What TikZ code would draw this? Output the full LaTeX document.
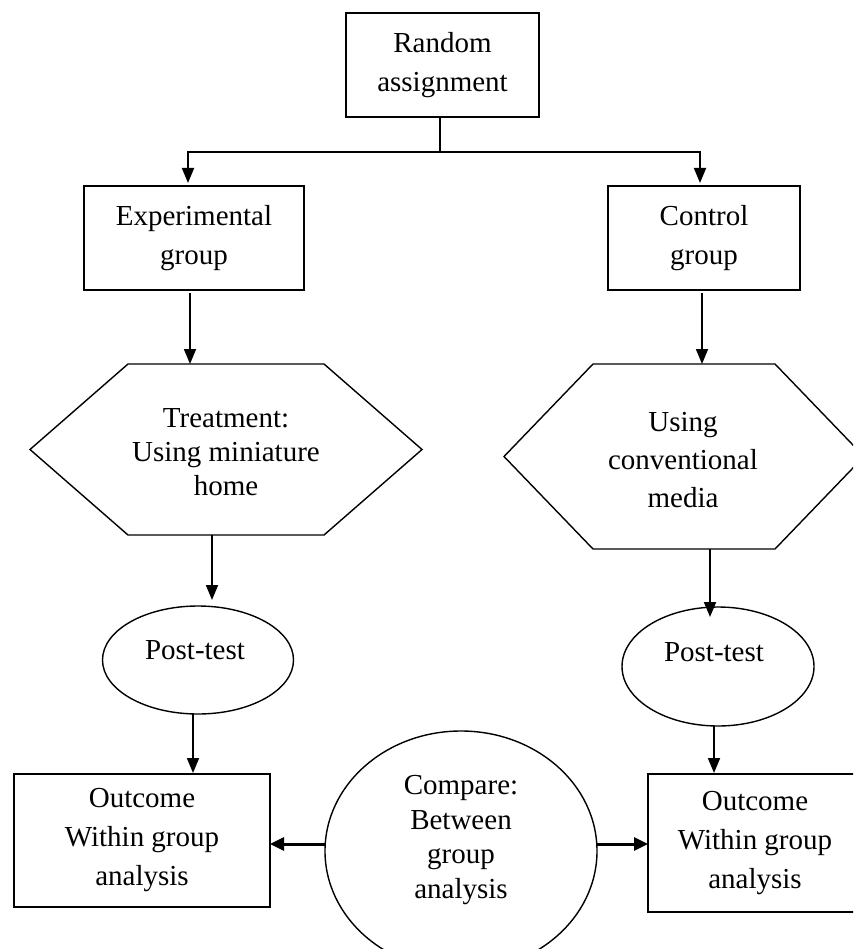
\documentclass[tikz,border=0pt]{standalone}
\usepackage{fontspec}
\setmainfont{Liberation Serif}
\usetikzlibrary{arrows.meta,shapes.geometric,calc}
\begin{document}
\begin{tikzpicture}[x=1pt,y=-1pt,
  every node/.style={font=\fontsize{29}{39}\selectfont, align=center, inner sep=0pt, outer sep=0pt},
  boxn/.style={draw, line width=1.4pt, rectangle},
  elln/.style={draw, line width=1.4pt, ellipse},
  hexn/.style={draw=none, rectangle},
  hexline/.style={line width=1.4pt, line join=miter},
  arr/.style={line width=1.8pt, -{Triangle[length=15pt,width=12pt]}},
  arrh/.style={line width=3pt, -{Triangle[length=14pt,width=13pt]}},
  plain/.style={line width=1.8pt}]

\path[use as bounding box, clip] (0,0) rectangle (853,949);
\fill[white] (0,0) rectangle (853,949);

% nodes
\node[boxn, minimum width=193pt, minimum height=104pt] (ra) at (442.5,65) {Random\\assignment};
\node[boxn, minimum width=220pt, minimum height=104pt] (eg) at (194,238) {Experimental\\group};
\node[boxn, minimum width=192pt, minimum height=104pt] (cg) at (704,238) {Control\\group};

\node[hexn, minimum width=392pt, minimum height=171pt] (h1) at (226,449.5) {};
\node[hexn, minimum width=360pt, minimum height=185pt] (h2) at (684,456.5) {};
\draw[hexline] ([xshift=98pt]h1.north west) -- ([xshift=-98pt]h1.north east) -- (h1.east)
  -- ([xshift=-98pt]h1.south east) -- ([xshift=98pt]h1.south west) -- (h1.west) -- cycle;
\draw[hexline] ([xshift=89pt]h2.north west) -- ([xshift=-89pt]h2.north east) -- (h2.east)
  -- ([xshift=-89pt]h2.south east) -- ([xshift=89pt]h2.south west) -- (h2.west) -- cycle;
\node[font=\fontsize{29}{34}\selectfont] (h1t) at (226,452) {Treatment:\\Using miniature\\home};
\node[font=\fontsize{29}{38}\selectfont] (h2t) at (683,460) {Using\\conventional\\media};

\node[elln, minimum width=191pt, minimum height=108pt] (p1) at (198,660) {};
\node[elln, minimum width=192pt, minimum height=119pt] (p2) at (718,666.5) {};
\node (p1t) at (195,650) {Post-test};
\node (p2t) at (714,652) {Post-test};

\node[boxn, minimum width=256pt, minimum height=133pt] (o1) at (142,840.5) {Outcome\\Within group\\analysis};
\node[boxn, minimum width=214pt, minimum height=138pt] (o2) at (755,843) {Outcome\\Within group\\analysis};

\node[elln, minimum width=272pt, minimum height=240pt] (cmp) at (461,851) {};
\node[font=\fontsize{29}{34.5}\selectfont] (cmpt) at (461,840) {Compare:\\Between\\group\\analysis};

% connectors
\coordinate (j) at ([xshift=-2.5pt,yshift=-35pt]ra.south);
\draw[plain] ([xshift=-2.5pt]ra.south) -- (j);
\draw[arr] (j) -| ([xshift=-6pt,yshift=3pt]eg.north);
\draw[arr] (j) -| ([xshift=-4pt,yshift=3pt]cg.north);

\draw[arr] ([xshift=-4pt,yshift=-3pt]eg.south) -- ([xshift=-36pt]h1.north);
\draw[arr] ([xshift=-2pt,yshift=-3pt]cg.south) -- ([xshift=18pt]h2.north);

\draw[arr] ([xshift=-14pt]h1.south) -- ([xshift=14pt,yshift=6pt]p1.north);
\draw[arr] ([xshift=26pt]h2.south) -- ([xshift=-8pt,yshift=-10pt]p2.north);

\draw[arr] ([xshift=-5pt]p1.south) -- ([xshift=51pt,yshift=1pt]o1.north);
\draw[arr] ([xshift=-4pt]p2.south) -- ([xshift=-41pt,yshift=1pt]o2.north);

\draw[arrh] ([yshift=7pt]cmp.west) -- ([yshift=7pt]cmp.west -| o1.east);
\draw[arrh] ([yshift=7pt]cmp.east) -- ([yshift=7pt]cmp.east -| o2.west);
\end{tikzpicture}
\end{document}
